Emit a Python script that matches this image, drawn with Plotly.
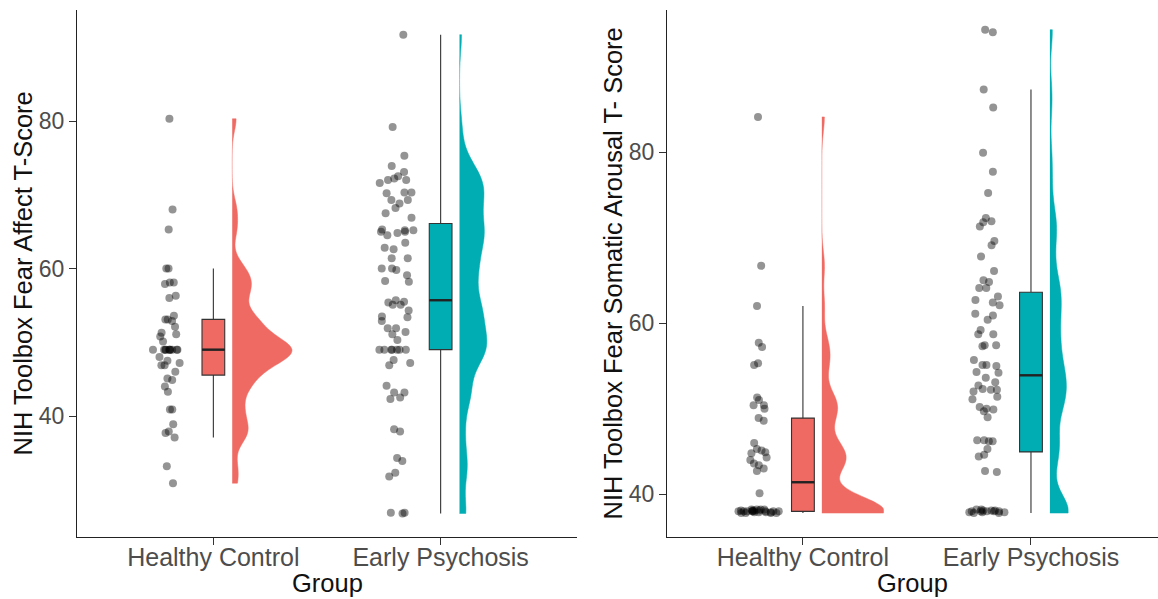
import numpy as np
import plotly.graph_objects as go

# ---------------- data ----------------
groups = ["Healthy Control", "Early Psychosis"]
y_ticks = [40, 60, 80]

fear_affect_hc = [80.3, 68.0, 65.3, 60.0, 60.0, 58.1, 58.1, 57.9, 56.3, 56.0, 53.6, 53.1, 53.1,
                  52.9, 52.1, 51.3, 51.1, 50.8, 50.1, 49.0, 49.0, 49.0, 49.0, 49.0, 49.0, 49.0,
                  49.0, 49.0, 49.0, 48.0, 47.5, 47.2, 46.9, 46.9, 46.0, 45.1, 44.9, 44.0, 43.3,
                  40.9, 40.9, 38.9, 37.9, 37.7, 37.1, 33.2, 30.9]
fear_affect_ep = [91.7, 79.2, 75.3, 73.9, 73.1, 72.5, 72.2, 72.0, 72.0, 71.6, 70.3, 70.3, 70.2,
                  69.3, 69.3, 68.8, 68.2, 67.5, 66.9, 65.3, 65.2, 65.2, 65.0, 65.0, 64.8, 64.5,
                  63.5, 62.8, 62.6, 61.4, 61.4, 60.0, 60.0, 59.8, 59.1, 58.3, 58.2, 55.7, 55.5,
                  55.4, 55.1, 55.1, 54.3, 53.5, 53.4, 52.9, 51.9, 51.9, 51.4, 51.1, 50.3, 49.0,
                  49.0, 49.0, 49.0, 49.0, 49.0, 49.0, 47.6, 47.2, 46.9, 44.1, 43.2, 43.2, 42.5,
                  42.3, 38.2, 37.9, 34.3, 33.9, 32.3, 31.8, 26.9, 26.9, 26.8]
somatic_hc = [84.1, 66.7, 62.0, 57.7, 57.2, 55.3, 55.1, 51.3, 51.0, 50.4, 50.4, 50.0, 48.9, 48.6,
              46.0, 45.3, 45.1, 44.9, 44.8, 44.3, 44.0, 43.6, 43.4, 43.0, 42.7, 40.1,
              38.2, 38.0, 37.9, 38.1, 38.0, 37.8, 38.2, 38.0, 37.9, 38.1, 38.0, 37.8,
              38.2, 38.0, 37.9, 38.1, 38.0, 37.8, 38.2, 38.0, 37.9, 38.1, 38.0, 37.8]
somatic_ep = [94.3, 94.0, 87.3, 85.2, 79.9, 77.7, 75.2, 72.3, 71.9, 71.8, 71.3, 69.6, 69.1, 67.8,
              66.1, 65.0, 64.8, 64.1, 64.1, 63.1, 62.7, 62.4, 62.1, 61.1, 60.9, 60.4, 59.2, 58.7,
              58.7, 57.4, 57.4, 57.3, 55.7, 55.1, 55.1, 55.0, 54.3, 54.2, 53.6, 53.1, 52.7, 52.3,
              52.2, 52.2, 52.0, 51.4, 51.1, 50.2, 50.0, 49.9, 49.7, 49.0, 46.3, 46.3, 46.2, 46.2,
              45.3, 44.6, 44.4, 42.7, 42.6,
              38.1, 37.9, 38.0, 38.2, 37.8, 38.0, 38.1, 37.9, 38.0, 38.2, 37.8, 38.0, 38.1, 37.9, 38.0]

panel_titles = ["NIH Toolbox Fear Affect T-Score", "NIH Toolbox Fear Somatic Arousal T- Score"]
x_title = "Group"

# ---------------- style ----------------
W, H = 1158, 599
FONT = "Liberation Sans, Arial, Helvetica, sans-serif"
fills = ["#EE6A63", "#00ADB3"]
BOX_LINE = "#333333"

panels = [
    dict(data=[fear_affect_hc, fear_affect_ep], xa="x", ya="y",
         xdom=[77 / W, 577 / W], xr=[0.4, 2.6], yr=[23.6, 95.05],
         vwidth=[0.526, 0.24], bw=[1.6, 2.3]),
    dict(data=[somatic_hc, somatic_ep], xa="x2", ya="y2",
         xdom=[667 / W, 1.0], xr=[0.404, 2.557], yr=[35.0, 96.6],
         vwidth=[0.54, 0.16], bw=[1.7, 2.0]),
]

fig = go.Figure()
for p in panels:
    for i, vals in enumerate(p["data"]):
        pos = i + 1
        # jittered points (carried by an invisible box trace)
        fig.add_trace(go.Box(
            y=vals, x0=pos - 0.19, width=0.19, boxpoints="all", jitter=1, pointpos=0,
            fillcolor="rgba(0,0,0,0)", line=dict(color="rgba(0,0,0,0)", width=0),
            marker=dict(color="rgba(0,0,0,0.42)", size=8, line=dict(width=0)),
            whiskerwidth=0, xaxis=p["xa"], yaxis=p["ya"], showlegend=False, hoverinfo="y"))
        # box plot
        fig.add_trace(go.Box(
            y=vals, x0=pos, width=0.1, boxpoints="outliers", quartilemethod="inclusive",
            fillcolor=fills[i], line=dict(color=BOX_LINE, width=1.1),
            marker=dict(opacity=0, size=1), whiskerwidth=0,
            xaxis=p["xa"], yaxis=p["ya"], showlegend=False))
        # thicker median line
        med = float(np.median(vals))
        fig.add_trace(go.Scatter(
            x=[pos - 0.05, pos + 0.05], y=[med, med], mode="lines",
            line=dict(color="#222222", width=2.4), xaxis=p["xa"], yaxis=p["ya"],
            showlegend=False, hoverinfo="skip"))
        # half violin
        fig.add_trace(go.Violin(
            y=vals, x0=pos + 0.083, side="positive", points=False, spanmode="hard",
            scalemode="width", width=p["vwidth"][i], bandwidth=p["bw"][i],
            fillcolor=fills[i], line=dict(color=fills[i], width=0.5), opacity=1,
            box=dict(visible=False), meanline=dict(visible=False),
            xaxis=p["xa"], yaxis=p["ya"], showlegend=False, hoveron="violins"))

axis_common = dict(showline=True, linecolor="#222222", linewidth=1.3, showgrid=False,
                   zeroline=False, ticks="outside", ticklen=7, tickcolor="#333333",
                   tickwidth=1.1, automargin=False)

layout = dict(
    width=W, height=H, plot_bgcolor="white", paper_bgcolor="white",
    margin=dict(l=0, r=0, t=10, b=62), boxmode="overlay", violinmode="overlay",
    font=dict(family=FONT, color="#4D4D4D"),
    showlegend=False,
)
for k, p in enumerate(panels):
    sx = "" if k == 0 else "2"
    layout["xaxis" + sx] = dict(axis_common, domain=p["xdom"], range=p["xr"], type="linear",
                                tickvals=[1, 2], ticktext=groups, ticklabelstandoff=-9,
                                tickfont=dict(size=25, color="#4D4D4D", family=FONT),
                                anchor="y" + sx)
    layout["yaxis" + sx] = dict(axis_common, domain=[0, 1], range=p["yr"], tickvals=y_ticks,
                                tickfont=dict(size=23, color="#4D4D4D", family=FONT),
                                anchor="x" + sx)
fig.update_layout(**layout)

annotations = []
title_x = [22 / W, 612 / W]
for k, p in enumerate(panels):
    annotations.append(dict(text=panel_titles[k], textangle=-90, x=title_x[k], y=0.5,
                            xref="paper", yref="paper", showarrow=False,
                            xanchor="center", yanchor="middle",
                            font=dict(size=25.5, color="#111111", family=FONT)))
    annotations.append(dict(text=x_title, x=(p["xdom"][0] + p["xdom"][1]) / 2, y=-46 / 527,
                            xref="paper", yref="paper", showarrow=False,
                            xanchor="center", yanchor="middle",
                            font=dict(size=25.5, color="#111111", family=FONT)))
fig.update_layout(annotations=annotations)

fig.write_html("out.html", config={"displayModeBar": False},
               post_script="document.body.style.margin='0px';")
